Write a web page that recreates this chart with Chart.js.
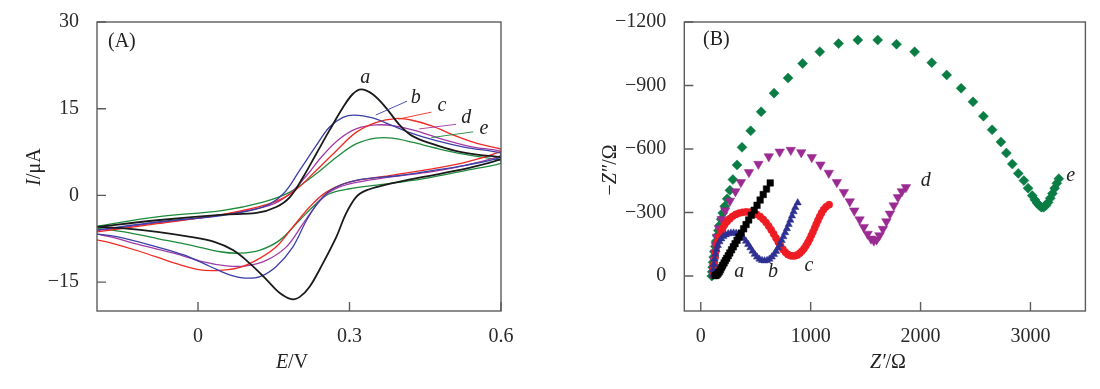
<!DOCTYPE html>
<html>
<head>
<meta charset="utf-8">
<script src="https://cdn.jsdelivr.net/npm/chart.js@4.4.0/dist/chart.umd.min.js"></script>
<style>
  body { margin: 0; background: #fff; }
  #wrap { position: relative; width: 1100px; height: 389px; }
  canvas { position: absolute; top: 0; }
</style>
</head>
<body>
<div id="wrap">
  <canvas id="cv" width="550" height="389" style="left:0"></canvas>
  <canvas id="eis" width="550" height="389" style="left:550px"></canvas>
</div>
<script>
// ---- panel A: cyclic voltammograms, [E (V), I (uA)] ----
var cvLabels = ['a', 'b', 'c', 'd', 'e'];
var cvA = [[-0.2,-5.45],[-0.081,-4.3],[0.05,-3.33],[0.116,-3.04],[0.155,-2.0],[0.182,-0.29],[0.208,3.15],[0.234,7.17],[0.26,11.2],[0.287,15.2],[0.306,17.5],[0.323,18.35],[0.346,17.5],[0.372,15.2],[0.398,12.3],[0.424,10.3],[0.464,8.9],[0.51,7.7],[0.556,7.0],[0.6,6.6],
  [0.6,6.3],[0.543,4.9],[0.477,3.7],[0.411,2.6],[0.365,1.7],[0.333,0.86],[0.313,-0.29],[0.293,-3.15],[0.274,-7.17],[0.247,-11.8],[0.221,-15.8],[0.201,-17.6],[0.185,-17.95],[0.162,-16.9],[0.136,-14.6],[0.103,-11.8],[0.07,-9.5],[0.031,-8.0],[-0.015,-7.17],[-0.081,-6.3],[-0.146,-5.7],[-0.2,-5.45]];
var cvB = [[-0.2,-6.0],[-0.081,-4.6],[0.05,-3.44],[0.129,-2.0],[0.169,0.29],[0.201,4.3],[0.234,8.6],[0.26,11.8],[0.287,13.5],[0.31,13.9],[0.346,13.4],[0.379,12.3],[0.418,10.9],[0.47,9.5],[0.529,8.3],[0.6,7.3],
  [0.6,6.6],[0.529,5.2],[0.464,4.3],[0.398,3.44],[0.313,2.6],[0.267,1.15],[0.241,-0.86],[0.215,-4.3],[0.188,-8.9],[0.155,-12.3],[0.123,-14.05],[0.093,-14.3],[0.064,-13.8],[0.024,-12.3],[-0.028,-10.3],[-0.094,-8.6],[-0.159,-7.17],[-0.2,-6.7]];
var cvC = [[-0.2,-6.3],[-0.081,-4.9],[0.05,-3.27],[0.142,-1.43],[0.188,0.57],[0.234,4.3],[0.274,7.74],[0.313,10.9],[0.352,12.6],[0.392,13.3],[0.424,13.0],[0.464,12.0],[0.51,10.3],[0.556,8.9],[0.6,8.0],
  [0.6,7.6],[0.529,5.7],[0.464,4.6],[0.379,3.44],[0.3,2.3],[0.254,0.57],[0.221,-2.0],[0.188,-5.45],[0.155,-8.9],[0.116,-11.2],[0.077,-12.6],[0.037,-13.0],[-0.002,-12.8],[-0.054,-11.5],[-0.113,-9.75],[-0.173,-8.2],[-0.2,-7.7]];
var cvD = [[-0.2,-6.1],[-0.081,-4.76],[0.05,-3.33],[0.142,-1.72],[0.182,0.29],[0.215,3.44],[0.247,6.9],[0.28,9.75],[0.313,11.5],[0.352,12.2],[0.392,12.0],[0.431,11.2],[0.483,9.75],[0.543,8.4],[0.6,7.6],
  [0.6,6.9],[0.529,5.2],[0.464,4.1],[0.379,3.15],[0.3,2.0],[0.26,0.57],[0.234,-1.72],[0.208,-4.9],[0.175,-8.9],[0.136,-11.2],[0.096,-12.2],[0.057,-12.2],[0.011,-11.5],[-0.048,-10.0],[-0.113,-8.6],[-0.173,-7.17],[-0.2,-6.7]];
var cvE = [[-0.2,-5.33],[-0.081,-3.73],[0.05,-2.58],[0.129,-1.15],[0.182,0.57],[0.234,3.73],[0.274,6.6],[0.313,8.9],[0.352,9.9],[0.385,9.9],[0.424,9.2],[0.47,8.2],[0.523,7.17],[0.6,6.0],
  [0.6,5.56],[0.529,4.3],[0.444,2.87],[0.365,1.9],[0.3,1.15],[0.26,0.29],[0.234,-1.43],[0.201,-4.3],[0.162,-7.74],[0.123,-9.46],[0.083,-10.0],[0.044,-9.75],[-0.015,-8.6],[-0.081,-7.46],[-0.146,-6.3],[-0.2,-5.73]];
var cvTicksX = [0, 0.3, 0.6];
var cvTicksY = [-15, 0, 15, 30];

// ---- panel B: Nyquist plots, [Z' (ohm), Z'' (ohm)] ----
var eisA = [[130,-2],[140,-4],[150,-8],[160,-14],[170,-21],[180,-31],[190,-42],[200,-51],[212,-62],[224,-73],[236,-84],[250,-96],[264,-109],[280,-124],[296,-138],[312,-153],[330,-169],[348,-185],[368,-203],[390,-223],[412,-243],[436,-265],[460,-287],[486,-311],[512,-334],[540,-359],[568,-385],[598,-411],[632,-440]];
var eisB = [[110,-5],[114,-30],[119,-55],[125,-80],[133,-104],[143,-126],[155,-145],[170,-162],[187,-176],[206,-187],[227,-195],[250,-200],[274,-203],[298,-204],[322,-202],[346,-197],[368,-189],[390,-178],[411,-165],[431,-150],[451,-134],[471,-118],[491,-103],[512,-90],[534,-80],[557,-74],[580,-72],[603,-74],[625,-80],[646,-90],[666,-102],[685,-117],[703,-133],[720,-150],[736,-168],[752,-186],[768,-205],[784,-224],[800,-244],[815,-264],[830,-284],[845,-304],[860,-324],[882,-346]];
var eisC = [[112,-5],[116,-30],[121,-58],[127,-86],[134,-112],[143,-138],[154,-163],[167,-186],[182,-207],[199,-226],[218,-243],[240,-258],[264,-271],[290,-282],[318,-291],[348,-297],[380,-301],[412,-303],[445,-302],[478,-298],[510,-291],[540,-281],[568,-268],[594,-253],[618,-236],[641,-218],[663,-199],[684,-180],[705,-161],[726,-143],[748,-126],[770,-112],[792,-102],[814,-97],[836,-95],[858,-96],[880,-100],[901,-108],[921,-118],[940,-130],[958,-144],[975,-159],[991,-175],[1006,-192],[1021,-209],[1036,-227],[1051,-245],[1066,-263],[1082,-281],[1099,-298],[1118,-314],[1140,-327],[1168,-337]];
var eisD = [[115,-10],[118,-40],[122,-75],[128,-110],[136,-145],[148,-185],[165,-225],[190,-268],[222,-310],[265,-355],[315,-400],[365,-443],[438,-490],[524,-529],[619,-565],[718,-587],[819,-595],[914,-584],[1010,-561],[1089,-526],[1165,-487],[1238,-443],[1302,-396],[1356,-352],[1397,-309],[1445,-267],[1483,-231],[1518,-199],[1549,-176],[1575,-167],[1600,-172],[1626,-192],[1657,-222],[1689,-258],[1721,-294],[1756,-333],[1794,-372],[1830,-400],[1867,-419]];
var eisE = [[100,0],[104,-20],[108,-42],[112,-65],[118,-90],[124,-115],[132,-140],[140,-165],[150,-190],[160,-215],[172,-240],[185,-268],[200,-298],[218,-330],[240,-365],[265,-405],[292,-456],[330,-525],[375,-608],[454,-686],[549,-776],[667,-864],[794,-935],[927,-1004],[1083,-1060],[1254,-1098],[1429,-1115],[1610,-1115],[1781,-1095],[1946,-1059],[2102,-1008],[2238,-950],[2369,-887],[2477,-823],[2572,-755],[2651,-691],[2731,-633],[2781,-581],[2835,-529],[2889,-485],[2940,-451],[2978,-415],[3016,-380],[3040,-360],[3060,-345],[3080,-333],[3100,-325],[3120,-325],[3140,-333],[3160,-348],[3180,-368],[3200,-390],[3220,-415],[3240,-438],[3258,-460]];
var eisTicksX = [0, 1000, 2000, 3000];
var eisTicksY = [-1200, -900, -600, -300, 0];

var SERIF = '"Liberation Serif", "Times New Roman", serif';

function pts(arr) {
  return arr.map(function (p) { return { x: p[0], y: p[1] }; });
}
function minus(v) {
  return String(v).replace('-', '\u2212');
}
function fixedTicks(list) {
  return function (scale) {
    scale.ticks = list.map(function (v) { return { value: v }; });
  };
}

function drawParts(ctx, parts, x, y, rot) {
  ctx.save();
  ctx.translate(x, y);
  if (rot) ctx.rotate(rot);
  ctx.textBaseline = 'middle';
  ctx.textAlign = 'left';
  ctx.fillStyle = '#222';
  var w = 0;
  parts.forEach(function (p) {
    ctx.font = (p[1] ? 'italic ' : '') + '20px ' + SERIF;
    w += ctx.measureText(p[0]).width;
  });
  var cx = -w / 2;
  parts.forEach(function (p) {
    ctx.font = (p[1] ? 'italic ' : '') + '20px ' + SERIF;
    ctx.fillText(p[0], cx, 0);
    cx += ctx.measureText(p[0]).width;
  });
  ctx.restore();
}

// frame, inward ticks, axis titles and curve labels
var decor = {
  id: 'decor',
  afterDatasetsDraw: function (chart, args, o) {
    var ctx = chart.ctx, a = chart.chartArea;
    var sx = chart.scales.x, sy = chart.scales.y;
    ctx.save();
    ctx.strokeStyle = '#5c5c5c';
    ctx.lineWidth = 1.4;
    ctx.strokeRect(a.left, a.top, a.right - a.left, a.bottom - a.top);
    ctx.beginPath();
    o.xTicks.forEach(function (v) {
      var p = sx.getPixelForValue(v);
      ctx.moveTo(p, a.bottom); ctx.lineTo(p, a.bottom - 9);
    });
    o.yTicks.forEach(function (v) {
      var p = sy.getPixelForValue(v);
      ctx.moveTo(a.left, p); ctx.lineTo(a.left + 9, p);
    });
    ctx.stroke();

    (o.leaders || []).forEach(function (l) {
      ctx.beginPath();
      ctx.strokeStyle = l.color;
      ctx.lineWidth = 0.9;
      ctx.moveTo(sx.getPixelForValue(l.from[0]), sy.getPixelForValue(l.from[1]));
      ctx.lineTo(sx.getPixelForValue(l.to[0]), sy.getPixelForValue(l.to[1]));
      ctx.stroke();
    });

    ctx.fillStyle = '#222';
    ctx.textAlign = 'center';
    ctx.textBaseline = 'middle';
    ctx.font = 'italic 20px ' + SERIF;
    o.tags.forEach(function (t) {
      ctx.fillText(t.text, sx.getPixelForValue(t.at[0]), sy.getPixelForValue(t.at[1]));
    });
    ctx.textAlign = 'left';
    ctx.font = '20px ' + SERIF;
    ctx.fillText(o.panel.text, o.panel.x, o.panel.y);

    drawParts(ctx, o.xTitle.parts, o.xTitle.x, o.xTitle.y, 0);
    drawParts(ctx, o.yTitle.parts, o.yTitle.x, o.yTitle.y, -Math.PI / 2);
    ctx.restore();
  }
};

function axes(xr, yr, xt, yt, yWidth, rev) {
  var tickFont = { family: SERIF, size: 20 };
  return {
    x: {
      type: 'linear', min: xr[0], max: xr[1],
      grid: { display: false }, border: { display: false },
      afterBuildTicks: fixedTicks(xt),
      afterFit: function (s) { s.height = 78; },
      ticks: { font: tickFont, color: '#2a2a2a', padding: 6, maxRotation: 0, callback: minus }
    },
    y: {
      type: 'linear', min: yr[0], max: yr[1], reverse: !!rev,
      grid: { display: false }, border: { display: false },
      afterBuildTicks: fixedTicks(yt),
      afterFit: function (s) { s.width = yWidth; },
      ticks: { font: tickFont, color: '#2a2a2a', padding: 10, callback: minus }
    }
  };
}

var cvColors = ['#1a1a1a', '#3b3fa6', '#ee2a24', '#a03aa6', '#1e8a3c'];
var cvData = [cvA, cvB, cvC, cvD, cvE];

new Chart(document.getElementById('cv'), {
  type: 'scatter',
  data: {
    datasets: cvData.map(function (d, i) {
      return {
        label: cvLabels[i], data: pts(d), showLine: true,
        borderColor: cvColors[i], borderWidth: i === 0 ? 1.8 : 1.3,
        pointRadius: 0, tension: 0.35
      };
    })
  },
  options: {
    responsive: false, animation: false, events: [], devicePixelRatio: 1,
    layout: { padding: { left: 0, right: 49, top: 19.5, bottom: 0 } },
    scales: axes([-0.2, 0.6], [-20, 30], cvTicksX, cvTicksY, 97, false),
    plugins: {
      legend: { display: false }, tooltip: { enabled: false },
      decor: {
        xTicks: cvTicksX, yTicks: cvTicksY,
        panel: { text: '(A)', x: 108, y: 42 },
        xTitle: { parts: [['E', true], ['/V', false]], x: 292, y: 363 },
        yTitle: { parts: [['I', true], ['/\u03bcA', false]], x: 35, y: 167 },
        tags: [
          { text: 'a', at: [0.331, 20.3] }, { text: 'b', at: [0.431, 16.9] },
          { text: 'c', at: [0.483, 15.5] }, { text: 'd', at: [0.531, 13.5] },
          { text: 'e', at: [0.566, 11.6] }
        ],
        leaders: [
          { color: cvColors[1], from: [0.352, 13.9], to: [0.414, 16.3] },
          { color: cvColors[2], from: [0.397, 13.2], to: [0.462, 14.4] },
          { color: cvColors[3], from: [0.438, 11.5], to: [0.511, 12.3] },
          { color: cvColors[4], from: [0.462, 10.0], to: [0.545, 11.0] }
        ]
      }
    }
  },
  plugins: [decor]
});

var eisColors = ['#000000', '#2e3192', '#ee1d23', '#9b2a92', '#0a7d45'];
var eisData = [eisA, eisB, eisC, eisD, eisE];
var eisStyle = [
  { pointStyle: 'rect', r: 4.6, rot: 0 },
  { pointStyle: 'triangle', r: 4.2, rot: 0 },
  { pointStyle: 'circle', r: 3.6, rot: 0 },
  { pointStyle: 'triangle', r: 5.5, rot: 180 },
  { pointStyle: 'rectRot', r: 5, rot: 0 }
];

new Chart(document.getElementById('eis'), {
  type: 'scatter',
  data: {
    datasets: eisData.map(function (d, i) {
      return {
        label: cvLabels[i], data: pts(d),
        pointStyle: eisStyle[i].pointStyle, pointRadius: eisStyle[i].r,
        rotation: eisStyle[i].rot,
        backgroundColor: eisColors[i], borderColor: eisColors[i], borderWidth: 0.5
      };
    })
  },
  options: {
    responsive: false, animation: false, events: [], devicePixelRatio: 1,
    layout: { padding: { left: 0, right: 14.6, top: 19.5, bottom: 0 } },
    scales: axes([-150, 3500], [-1200, 165], eisTicksX, eisTicksY, 134.3, true),
    plugins: {
      legend: { display: false }, tooltip: { enabled: false },
      decor: {
        xTicks: eisTicksX, yTicks: eisTicksY,
        panel: { text: '(B)', x: 153, y: 40 },
        xTitle: { parts: [['Z\u2032', true], ['/\u03a9', false]], x: 338, y: 363 },
        yTitle: { parts: [['\u2212', false], ['Z\u2033', true], ['/\u03a9', false]], x: 61, y: 170 },
        tags: [
          { text: 'a', at: [349, -19] }, { text: 'b', at: [657, -19] },
          { text: 'c', at: [984, -50] }, { text: 'd', at: [2048, -451] },
          { text: 'e', at: [3365, -474] }
        ]
      }
    }
  },
  plugins: [decor]
});
</script>
</body>
</html>
